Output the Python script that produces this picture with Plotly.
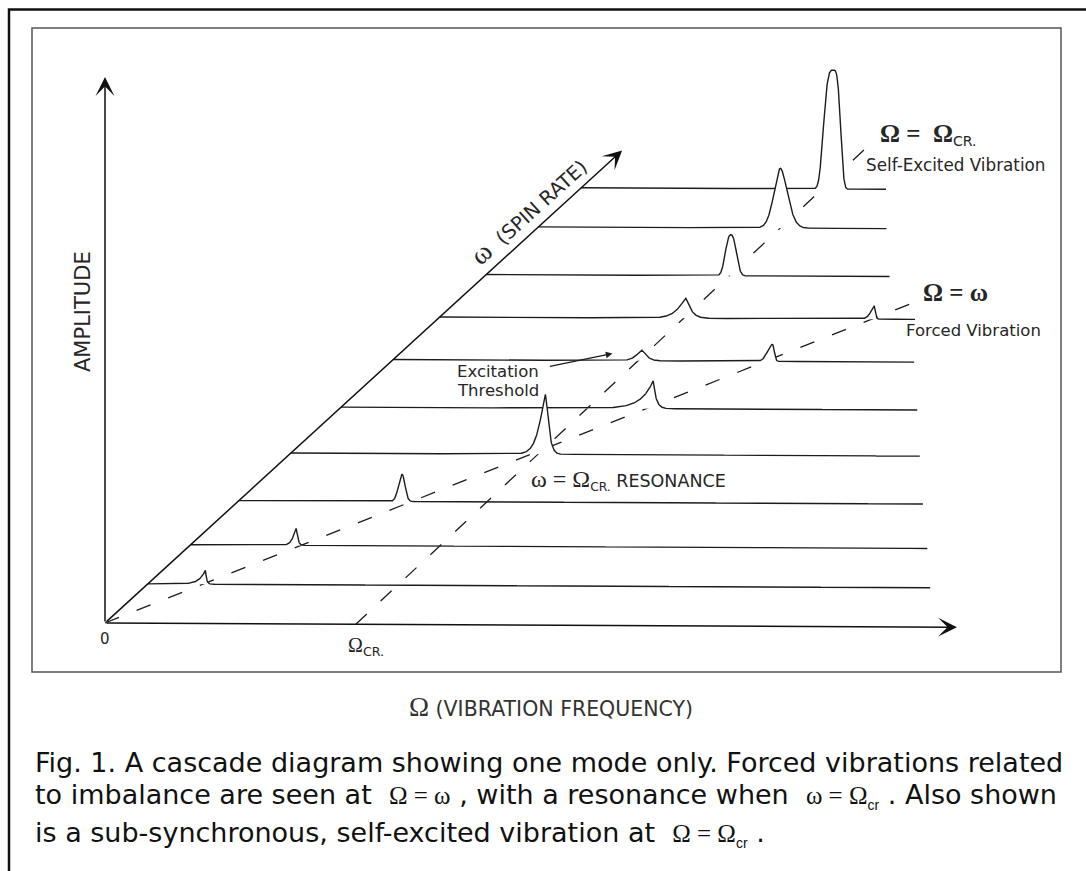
import numpy as np
import plotly.graph_objects as go

# ---------------- data (frequencies in units of the critical speed Ω_CR) ----------------
# one spectrum per spin rate, listed front (low ω) to back (high ω)
spin_rate = [0.23, 0.46, 0.72, 1.00, 1.27, 1.55, 1.80, 2.05, 2.33, 2.56]
trace_end = [3.26, 3.07, 2.85, 2.62, 2.40, 2.17, 1.98, 1.68, 1.45, 1.27]   # last Ω drawn on each spectrum

# forced (synchronous, Ω = ω) peaks
forced_row = [0, 1, 2, 3, 4, 5, 6]
forced_freq = [0.24, 0.44, 0.68, 1.06, 1.30, 1.58, 1.81]
forced_amp = [14, 17, 27, 60, 28, 17, 13]
forced_wl = [0.025, 0.017, 0.021, 0.033, 0.050, 0.029, 0.021]
forced_wr = [0.005, 0.008, 0.017, 0.017, 0.0125, 0.0104, 0.006]
forced_p = [1.0, 1.3, 2.0, 1.3, 1.0, 2.0, 1.5]

# self-excited (sub-synchronous, Ω = Ω_CR) peaks
self_row = [5, 6, 7, 8, 9]
self_freq = [1.034, 1.025, 1.019, 1.008, 1.051]
self_amp = [11, 20, 41, 60, 119]
self_wl = [0.029, 0.042, 0.029, 0.0375, 0.047]
self_wr = [0.025, 0.025, 0.029, 0.042, 0.034]
self_p = [1.3, 1.2, 2.5, 1.8, 3.5]

# axes extents and guide lines
omega_axis_max = 3.55       # Ω axis
spin_axis_max = 2.78        # ω axis
amp_axis_max = 546          # amplitude axis
sync_line = [0.0, 1.90]                 # Ω = ω, from ω = 0 to 1.9
crit_line_Omega = [1.045, 1.0]          # Ω = Ω_CR
crit_line_spin = [0.0, 2.82]
threshold_point = (0.913, 1.55, 7)      # (Ω, ω, amplitude) pointed to by "Excitation Threshold"

# ---------------- oblique (cascade) projection onto the drawing plane ----------------
O = (105.0, 623.0)
EX = (240.0, 1.2)       # per unit Ω
EW = (186.0, -170.0)    # per unit ω
EA = (0.0, -1.0)        # per unit amplitude


def proj(Om, w, A):
    Om = np.asarray(Om, float); w = np.asarray(w, float); A = np.asarray(A, float)
    x = O[0] + EX[0] * Om + EW[0] * w + EA[0] * A
    y = O[1] + EX[1] * Om + EW[1] * w + EA[1] * A
    return x, y


def peak(Om, c, a, wl, wr, p):
    d = Om - c
    w = np.where(d < 0, wl, wr)
    return a * np.exp(-np.abs(d / w) ** p)


INK = "#1c1c1c"
fig = go.Figure()

# guide dashed lines (on the floor of the cascade)
sx, sy = proj(sync_line, sync_line, [0, 0])
fig.add_trace(go.Scatter(x=sx, y=sy, mode="lines",
                         line=dict(color=INK, width=1.3, dash="15px,19px"), hoverinfo="skip"))
cx, cy = proj(crit_line_Omega, crit_line_spin, [0, 0])
fig.add_trace(go.Scatter(x=cx, y=cy, mode="lines",
                         line=dict(color=INK, width=1.3, dash="15px,19px"), hoverinfo="skip"))

# spectra, drawn back to front so front peaks hide what is behind them
for i in reversed(range(len(spin_rate))):
    Om = np.linspace(0, trace_end[i], 2500)
    A = np.zeros_like(Om)
    for r, c, a, wl, wr, p in zip(forced_row, forced_freq, forced_amp, forced_wl, forced_wr, forced_p):
        if r == i:
            A += peak(Om, c, a, wl, wr, p)
    for r, c, a, wl, wr, p in zip(self_row, self_freq, self_amp, self_wl, self_wr, self_p):
        if r == i:
            A += peak(Om, c, a, wl, wr, p)
    w = np.full_like(Om, spin_rate[i])
    xs, ys = proj(Om, w, A)
    bx, by = proj(Om, w, np.zeros_like(Om))
    fig.add_trace(go.Scatter(x=np.concatenate([xs, bx[::-1]]), y=np.concatenate([ys, by[::-1]]),
                             mode="lines", fill="toself", fillcolor="white",
                             line=dict(width=0, color="white"), hoverinfo="skip"))
    fig.add_trace(go.Scatter(x=xs, y=ys, mode="lines",
                             line=dict(color=INK, width=1.4), hoverinfo="skip"))

# axes as arrows
ox, oy = proj(0, 0, 0)
axes_tips = [proj(omega_axis_max, 0, 0), proj(0, 0, amp_axis_max), proj(0, spin_axis_max, 0)]
for tx, ty in axes_tips:
    fig.add_annotation(x=float(tx), y=float(ty), ax=float(ox), ay=float(oy), axref="x", ayref="y",
                       xref="x", yref="y", text="", showarrow=True, arrowhead=3, arrowsize=2.1,
                       arrowwidth=1.5, arrowcolor="#111")

SANS = "DejaVu Sans"
SERIF = "Liberation Serif"
LAB = "#262626"


def label(x, y, text, size=16.5, anchor="left", angle=0, color=LAB, family=SANS):
    fig.add_annotation(x=x, y=y, xref="x", yref="y", text=text, showarrow=False,
                       xanchor=anchor, yanchor="middle", textangle=angle,
                       font=dict(family=family, size=size, color=color))


def serif(t, size, bold=False):
    wt = "font-weight:bold;" if bold else ""
    return f"<span style='font-family:{SERIF};font-size:{size}px;{wt}'>{t}</span>"


label(83, 312, "AMPLITUDE", size=21, anchor="center", angle=-90)
label(528, 210, serif("ω", 28) + "  (SPIN RATE)", size=19.5, anchor="center", angle=-42)
label(498, 371, "Excitation", anchor="center")
label(498, 390, "Threshold", anchor="center")
tx, ty = proj(*threshold_point)
fig.add_annotation(x=float(tx), y=float(ty), xref="x", yref="y", ax=-64, ay=13, text="",
                   showarrow=True, arrowhead=2, arrowsize=1.1, arrowwidth=1.2, arrowcolor=INK)
label(878, 134, serif("Ω =  Ω", 25, True) + "<sub>CR.</sub>", size=20)
label(864, 165, "Self-Excited Vibration", size=16.8)
label(921, 292, serif("Ω = ω", 25, True), size=19)
label(904, 330, "Forced Vibration", size=16.5)
label(529, 480, serif("ω = Ω", 24) + "<sub>CR.</sub> RESONANCE", size=17.5)
label(105, 639, "0", size=15, anchor="center")
label(346, 646, serif("Ω", 20) + "<sub>CR.</sub>", size=18)
label(551, 707, serif("Ω", 27) + " (VIBRATION FREQUENCY)", size=20.5, anchor="center", color="#333")

CAP = "#111"
sub_cr = "<sub><span style='font-family:Liberation Sans;font-size:14px'>cr</span></sub>"
label(33, 762, "Fig. 1. A cascade diagram showing one mode only. Forced vibrations related",
      size=27, color=CAP)
label(33, 796, "to imbalance are seen at  " + serif("Ω = ω", 25) + " , with a resonance when  "
      + serif("ω = Ω", 25) + sub_cr + " . Also shown", size=27, color=CAP)
label(33, 834, "is a sub-synchronous, self-excited vibration at  " + serif("Ω = Ω", 25) + sub_cr + " .",
      size=27, color=CAP)

# frames
fig.add_shape(type="rect", x0=9, y0=9.5, x1=1200, y1=1000, xref="x", yref="y",
              line=dict(color="#111", width=2.5), fillcolor="rgba(0,0,0,0)", layer="below")
fig.add_shape(type="rect", x0=32, y0=28, x1=1061, y1=672, xref="x", yref="y",
              line=dict(color="#555", width=1.5), fillcolor="rgba(0,0,0,0)", layer="below")

fig.update_layout(width=1086, height=871, margin=dict(l=0, r=0, t=0, b=0),
                  paper_bgcolor="white", plot_bgcolor="white", showlegend=False,
                  xaxis=dict(range=[0, 1086], visible=False, fixedrange=True),
                  yaxis=dict(range=[871, 0], visible=False, fixedrange=True),
                  hovermode=False)

fig.write_html("out.html", config={"displayModeBar": False},
               post_script="document.body.style.margin='0';")
